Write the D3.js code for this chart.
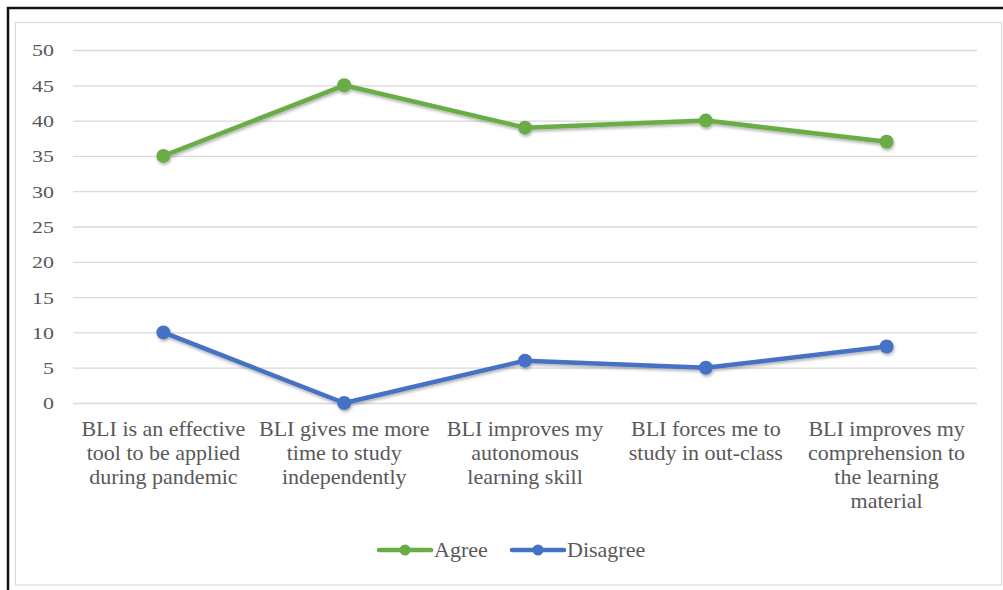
<!DOCTYPE html>
<html>
<head>
<meta charset="utf-8">
<script src="https://cdn.jsdelivr.net/npm/d3@7"></script>
<style>
  html, body { margin: 0; padding: 0; background: #fff; }
  svg { display: block; }
  text { font-family: "Liberation Serif", "Times New Roman", serif; fill: #595959; }
</style>
</head>
<body>
<svg id="chart" width="1003" height="590"></svg>
<script>
// Survey statements (each split into the lines it is printed on)
const categories = [
  ["BLI is an effective", "tool to be applied", "during pandemic"],
  ["BLI gives me more", "time to study", "independently"],
  ["BLI improves my", "autonomous", "learning skill"],
  ["BLI forces me to", "study in out-class"],
  ["BLI improves my", "comprehension to", "the learning", "material"]
];
const agree = [35, 45, 39, 40, 37];
const disagree = [10, 0, 6, 5, 8];
const yTicks = [0, 5, 10, 15, 20, 25, 30, 35, 40, 45, 50];
const seriesNames = ["Agree", "Disagree"];
const seriesColors = ["#6aac45", "#4472c4"];

const svg = d3.select("#chart");

// Outer frame and inner chart-area border
svg.append("path")
  .attr("d", "M8,592 L8,8 L1005,8")
  .attr("fill", "none").attr("stroke", "#111").attr("stroke-width", 2.5);
svg.append("rect")
  .attr("x", 15.5).attr("y", 22.5).attr("width", 986).attr("height", 562.5)
  .attr("fill", "#fff").attr("stroke", "#d9d9d9").attr("stroke-width", 1.2);

// Drop shadow for lines
const defs = svg.append("defs");
const f = defs.append("filter").attr("id", "shadow")
  .attr("x", "-10%").attr("y", "-10%").attr("width", "120%").attr("height", "140%");
f.append("feDropShadow").attr("dx", 0.8).attr("dy", 2).attr("stdDeviation", 1.5)
  .attr("flood-color", "#000").attr("flood-opacity", 0.3);

const x = d3.scaleBand().domain(d3.range(categories.length)).range([73, 977]);
const y = d3.scaleLinear().domain([0, 50]).range([403, 50]);

// Gridlines and y labels (digits drawn slightly wide)
const stretch = 1.33;
const yAxis = d3.axisLeft(y).tickValues(yTicks).tickSize(-(977 - 73)).tickPadding(19);
const gy = svg.append("g").attr("transform", "translate(73,0)").call(yAxis);
gy.select(".domain").remove();
gy.selectAll(".tick line").attr("stroke", "#d9d9d9").attr("stroke-width", 1.3);
gy.selectAll(".tick text")
  .attr("font-size", 16.5).attr("fill", "#595959")
  .attr("x", -19 / stretch)
  .attr("transform", `scale(${stretch},1)`)
  .attr("dy", "0.36em");

// Category labels
const xAxis = d3.axisBottom(x).tickSize(0).tickFormat(() => "");
const gx = svg.append("g").attr("transform", "translate(0,403)").call(xAxis);
gx.select(".domain").remove();
gx.selectAll(".tick").each(function(d) {
  const t = d3.select(this).append("text")
    .attr("text-anchor", "middle").attr("font-size", 22).attr("fill", "#595959");
  categories[d].forEach((line, i) => {
    t.append("tspan").attr("x", 0).attr("y", 33 + i * 24).text(line);
  });
});

// Series lines and markers
const cx = i => x(i) + x.bandwidth() / 2;
const line = d3.line().x((d, i) => cx(i)).y(d => y(d));
[agree, disagree].forEach((vals, s) => {
  const g = svg.append("g").attr("filter", "url(#shadow)");
  g.append("path").datum(vals)
    .attr("d", line).attr("fill", "none")
    .attr("stroke", seriesColors[s]).attr("stroke-width", 4.5)
    .attr("stroke-linejoin", "round").attr("stroke-linecap", "round");
  g.selectAll("circle").data(vals).join("circle")
    .attr("cx", (d, i) => cx(i)).attr("cy", d => y(d)).attr("r", 7)
    .attr("fill", seriesColors[s]);
});

// Legend
const legendX = [379, 512];
seriesNames.forEach((name, s) => {
  const lg = svg.append("g").attr("transform", `translate(${legendX[s]},550)`);
  lg.append("line").attr("x1", 0).attr("x2", 52).attr("y1", 0).attr("y2", 0)
    .attr("stroke", seriesColors[s]).attr("stroke-width", 4.5).attr("stroke-linecap", "round");
  lg.append("circle").attr("cx", 26).attr("cy", 0).attr("r", 5.5).attr("fill", seriesColors[s]);
  lg.append("text").attr("x", 55).attr("y", 7)
    .attr("font-size", 22).text(name);
});
</script>
</body>
</html>
